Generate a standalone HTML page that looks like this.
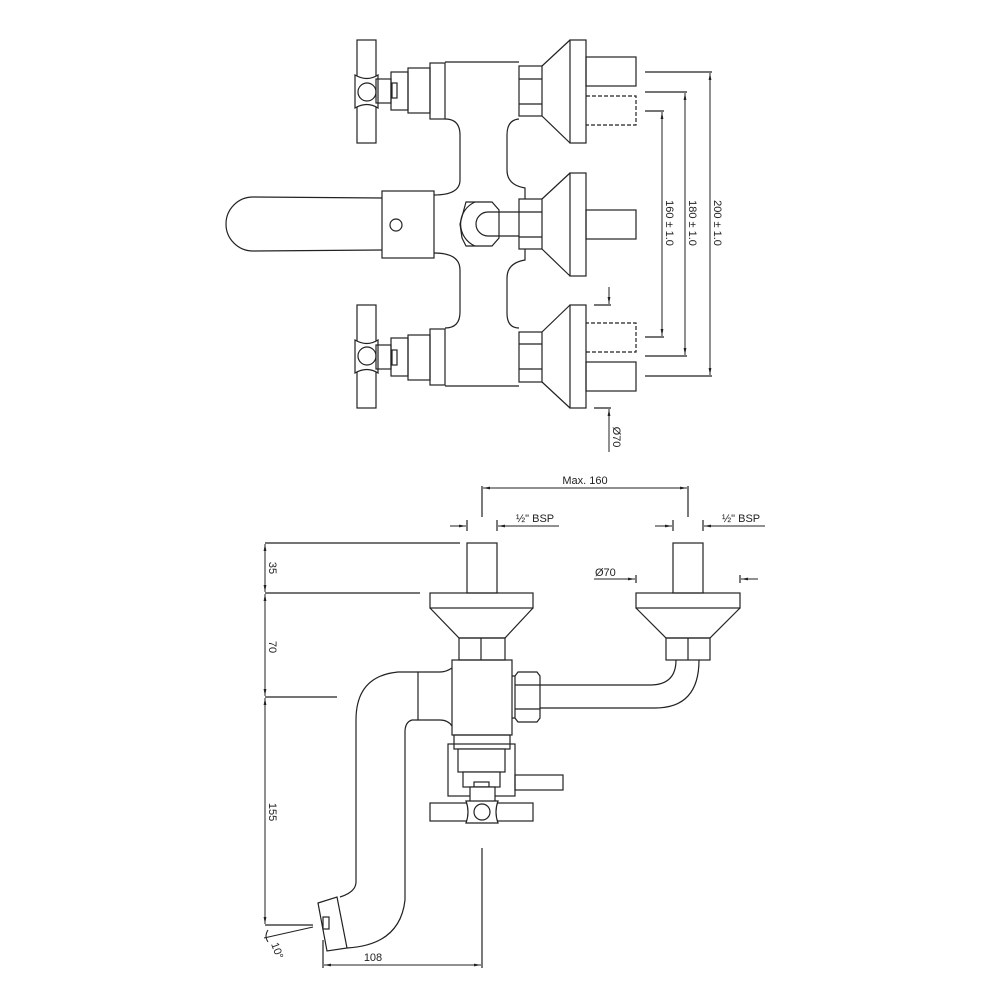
<!DOCTYPE html>
<html><head><meta charset="utf-8"><style>
html,body{margin:0;padding:0;background:#fff}
svg{display:block}
text{font-family:"Liberation Sans",sans-serif;font-size:11px;fill:#222}
</style></head><body>
<svg width="1000" height="1000" viewBox="0 0 1000 1000" xmlns="http://www.w3.org/2000/svg">
<defs>
<marker id="a" viewBox="0 0 10 10" refX="10" refY="5" markerWidth="7" markerHeight="7" orient="auto-start-reverse"><path d="M0,3 L10,5 L0,7 z" fill="#222"/></marker>
</defs>
<g fill="none" stroke="#222" stroke-width="1.2">
<!-- TOP VIEW: top valve group -->
<g id="tv">
<rect x="357" y="40" width="19" height="103"/>
<path d="M355,75 Q367,82 378,75 V108 Q367,101 355,108 Z" fill="#fff"/>
<circle cx="367" cy="92" r="9"/>
<rect x="376" y="79" width="15" height="24"/>
<rect x="392" y="83" width="5" height="15"/>
<rect x="391" y="72" width="17" height="38"/>
<rect x="408" y="68" width="22" height="45"/>
<rect x="430" y="63" width="15" height="56"/>
<rect x="519" y="66" width="23" height="50"/>
<line x1="519" y1="79" x2="542" y2="79"/><line x1="519" y1="104" x2="542" y2="104"/>
<path d="M542,66 L570,40 M542,116 L570,143"/>
<rect x="570" y="40" width="16" height="103"/>
<rect x="586" y="57" width="50" height="29"/>
<path d="M586,96 H636 V125 H586" stroke-dasharray="4,2"/>
</g>
<use href="#tv" transform="translate(0,448) scale(1,-1)"/>
<!-- body -->
<path d="M445,62 H519"/>
<path d="M445,386 H519"/>
<path d="M445,119 Q460,119 460,135 V180 Q460,195 434,195"/>
<path d="M434,253 Q460,253 460,270 V312 Q460,328 445,328"/>
<path d="M519,119 Q507,120 507,135 V170 Q507,185 525,188 V199"/>
<path d="M525,249 V260 Q507,263 507,278 V313 Q507,328 519,328"/>
<!-- lever handle -->
<rect x="382" y="191" width="52" height="67"/>
<circle cx="396" cy="225" r="6"/>
<path d="M382,198 L253,197 A27,27 0 0 0 253,251 L382,250"/>
<!-- middle flange -->
<rect x="519" y="199" width="23" height="50"/>
<line x1="519" y1="212" x2="542" y2="212"/><line x1="519" y1="237" x2="542" y2="237"/>
<path d="M542,199 L570,173 M542,249 L570,276"/>
<rect x="570" y="173" width="16" height="103"/>
<rect x="586" y="210" width="50" height="29"/>
<!-- elbow nut -->
<path d="M466,202 H492 L499,210 V238 L492,246 H466 L462,238 L460,224 Z"/>
<path d="M519,212 H488 A12,12 0 0 0 488,236 H519"/>
<path d="M475,246 A24,24 0 0 1 475,202"/>
<!-- dims top -->
<path d="M645,72 H712 M645,376 H712"/>
<line x1="710" y1="73" x2="710" y2="375" marker-start="url(#a)" marker-end="url(#a)" stroke-width="1"/>
<path d="M645,92 H687 M645,356 H687"/>
<line x1="685" y1="93" x2="685" y2="355" marker-start="url(#a)" marker-end="url(#a)" stroke-width="1"/>
<path d="M645,111 H664 M645,337 H664"/>
<line x1="662" y1="112" x2="662" y2="336" marker-start="url(#a)" marker-end="url(#a)" stroke-width="1"/>
<path d="M594,305 H611 M594,408 H611"/>
<line x1="609" y1="287" x2="609" y2="304" marker-end="url(#a)" stroke-width="1"/>
<line x1="609" y1="452" x2="609" y2="409" marker-end="url(#a)" stroke-width="1"/>

<!-- SIDE VIEW -->
<path d="M482,517 V486 M688,517 V486"/>
<line x1="483" y1="488" x2="687" y2="488" marker-start="url(#a)" marker-end="url(#a)" stroke-width="1"/>
<path d="M467,520 V531 M497,520 V531 M673,520 V531 M703,520 V531"/>
<line x1="450" y1="526" x2="466" y2="526" marker-end="url(#a)" stroke-width="1"/>
<line x1="559" y1="526" x2="498" y2="526" marker-end="url(#a)" stroke-width="1"/>
<line x1="655" y1="526" x2="672" y2="526" marker-end="url(#a)" stroke-width="1"/>
<line x1="765" y1="526" x2="704" y2="526" marker-end="url(#a)" stroke-width="1"/>
<path d="M636,575 V583 M740,575 V583"/>
<line x1="594" y1="579" x2="635" y2="579" marker-end="url(#a)" stroke-width="1"/>
<line x1="758" y1="579" x2="741" y2="579" marker-end="url(#a)" stroke-width="1"/>
<rect x="467" y="543" width="30" height="50"/>
<rect x="673" y="543" width="30" height="50"/>
<rect x="430" y="593" width="103" height="15"/>
<path d="M430,608 L459,638 H505 L533,608"/>
<rect x="459" y="638" width="46" height="22"/><line x1="481" y1="638" x2="481" y2="660"/>
<rect x="636" y="593" width="104" height="15"/>
<path d="M636,608 L666,638 H710 L740,608"/>
<rect x="666" y="638" width="44" height="22"/><line x1="688" y1="638" x2="688" y2="660"/>
<rect x="452" y="660" width="60" height="75"/>
<path d="M512,676 H515 M512,718 H515"/>
<path d="M518,672 H537 L540,676 V718 L537,722 H518 L515,718 V676 Z"/>
<path d="M515,685 H540 M515,709 H540"/>
<path d="M540,685 H650 Q676,685 676,660"/>
<path d="M540,708 H655 Q699,708 699,660"/>
<path d="M452,668 Q446,672 440,672 H418 V720 H440 Q448,720 452,726"/>
<path d="M418,672 H398 Q356,676 356,720 V882 Q356,892 340,897"/>
<path d="M418,720 H412 Q405,722 405,732 V900 Q400,945 347,948"/>
<path d="M318,903 L337,897 L347,948 L327,951 Z"/>
<rect x="323" y="917" width="6" height="12"/>
<rect x="454" y="735" width="56" height="14"/>
<rect x="448" y="744" width="67" height="52"/>
<rect x="458" y="749" width="47" height="23" fill="#fff"/>
<rect x="463" y="772" width="37" height="15" fill="#fff"/>
<rect x="474" y="782" width="15" height="5"/>
<rect x="470" y="787" width="25" height="15" fill="#fff"/>
<rect x="515" y="775" width="48" height="15"/>
<rect x="430" y="803" width="103" height="18"/>
<path d="M466,801 H498 Q494,812 498,823 H466 Q470,812 466,801 Z" fill="#fff"/>
<circle cx="482" cy="812" r="8"/>
<path d="M482,848 V968"/>
<path d="M265,543 H460 M265,593 H420 M265,697 H337 M265,925 H313 M323,940 V968"/>
<line x1="265" y1="544" x2="265" y2="592" marker-start="url(#a)" marker-end="url(#a)" stroke-width="1"/>
<line x1="265" y1="594" x2="265" y2="696" marker-start="url(#a)" marker-end="url(#a)" stroke-width="1"/>
<line x1="265" y1="698" x2="265" y2="924" marker-start="url(#a)" marker-end="url(#a)" stroke-width="1"/>
<path d="M264,938 L313,927" stroke-width="1"/>
<path d="M268,930 Q264,936 268,942" stroke-width="1"/>
<line x1="324" y1="965" x2="481" y2="965" marker-start="url(#a)" marker-end="url(#a)" stroke-width="1"/>
</g>
<text transform="translate(714,223) rotate(90)" text-anchor="middle">200 ± 1.0</text>
<text transform="translate(689,223) rotate(90)" text-anchor="middle">180 ± 1.0</text>
<text transform="translate(666,223) rotate(90)" text-anchor="middle">160 ± 1.0</text>
<text transform="translate(613,437) rotate(90)" text-anchor="middle">Ø70</text>
<text x="585" y="484" text-anchor="middle">Max. 160</text>
<text x="516" y="522">½" BSP</text>
<text x="722" y="522">½" BSP</text>
<text x="595" y="576">Ø70</text>
<text transform="translate(269,568) rotate(90)" text-anchor="middle">35</text>
<text transform="translate(269,647) rotate(90)" text-anchor="middle">70</text>
<text transform="translate(269,812) rotate(90)" text-anchor="middle">155</text>
<text transform="translate(271,944) rotate(70)">10°</text>
<text x="373" y="961" text-anchor="middle">108</text>
</svg>
</body></html>
